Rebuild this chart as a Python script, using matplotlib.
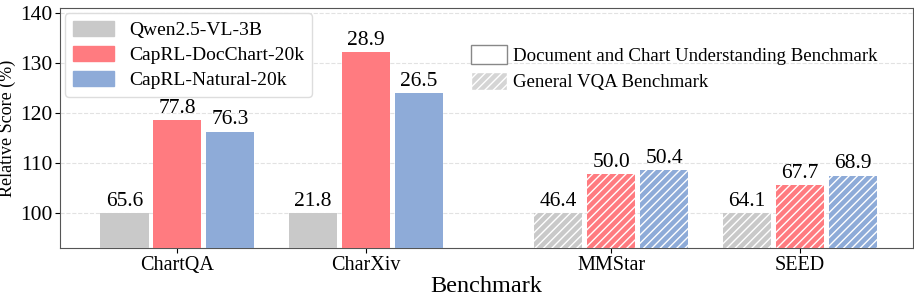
import numpy as np
import matplotlib.pyplot as plt
from matplotlib.patches import Patch

plt.rcParams['font.family'] = ['Liberation Serif', 'DejaVu Serif']
plt.rcParams['hatch.linewidth'] = 1.0

# Data
benchmarks = ["ChartQA", "CharXiv", "MMStar", "SEED"]
models = ["Qwen2.5-VL-3B", "CapRL-DocChart-20k", "CapRL-Natural-20k"]
relative = {
    "Qwen2.5-VL-3B": [100.0, 100.0, 100.0, 100.0],
    "CapRL-DocChart-20k": [118.6, 132.2, 107.8, 105.6],
    "CapRL-Natural-20k": [116.3, 124.0, 108.6, 107.5],
}
scores = {
    "Qwen2.5-VL-3B": ["65.6", "21.8", "46.4", "64.1"],
    "CapRL-DocChart-20k": ["77.8", "28.9", "50.0", "67.7"],
    "CapRL-Natural-20k": ["76.3", "26.5", "50.4", "68.9"],
}
is_general = [False, False, True, True]
colors = ["#c9c9c9", "#ff7b80", "#8eabd8"]

group_x = np.array([0.0, 1.0, 2.3, 3.3])
width = 0.255
offset = 0.28

fig = plt.figure(figsize=(9.14, 3.0), dpi=100)
ax = fig.add_axes([0.066, 0.173, 0.933, 0.8])

for i, m in enumerate(models):
    xs = group_x + (i - 1) * offset
    for j in range(len(benchmarks)):
        ax.bar(xs[j], relative[m][j] - 93, width, bottom=93, color=colors[i],
               edgecolor="white" if is_general[j] else colors[i],
               hatch="////" if is_general[j] else None, linewidth=0, zorder=3)
        ax.text(xs[j], relative[m][j] + 0.5, scores[m][j], ha="center", va="bottom",
                fontsize=15.5, zorder=4)

ax.set_ylim(93, 141)
ax.set_xlim(-0.62, 3.9)
ax.set_yticks([100, 110, 120, 130, 140])
ax.tick_params(axis="y", labelsize=15.5, pad=2)
ax.tick_params(axis="x", labelsize=14.5, pad=2)
ax.set_xticks(group_x)
ax.set_xticklabels(benchmarks)
ax.set_ylabel("Relative Score (%)", fontsize=13, labelpad=3)
ax.set_xlabel("Benchmark", fontsize=17.5, labelpad=1)
ax.yaxis.grid(True, linestyle="--", color="#e2e2e2", linewidth=0.8, zorder=0)
for s in ax.spines.values():
    s.set_color("#555555")

model_handles = [Patch(facecolor=c, edgecolor=c) for c in colors]
leg1 = ax.legend(model_handles, models, loc="upper left", fontsize=14,
                 handlelength=2.1, handleheight=0.8, borderaxespad=0.25,
                 labelspacing=0.35, handletextpad=0.8, framealpha=1,
                 edgecolor="#dddddd")
ax.add_artist(leg1)

type_handles = [Patch(facecolor="white", edgecolor="#888888"),
                Patch(facecolor="#d5d5d5", edgecolor="white", hatch="////")]
leg2 = ax.legend(type_handles, ["Document and Chart Understanding Benchmark",
                                "General VQA Benchmark"],
                 loc="upper left", bbox_to_anchor=(0.462, 0.915), fontsize=13.6,
                 frameon=False, handlelength=1.9, handleheight=1.1,
                 handletextpad=0.3, labelspacing=0.35)

fig.savefig("out.png", dpi=100)
